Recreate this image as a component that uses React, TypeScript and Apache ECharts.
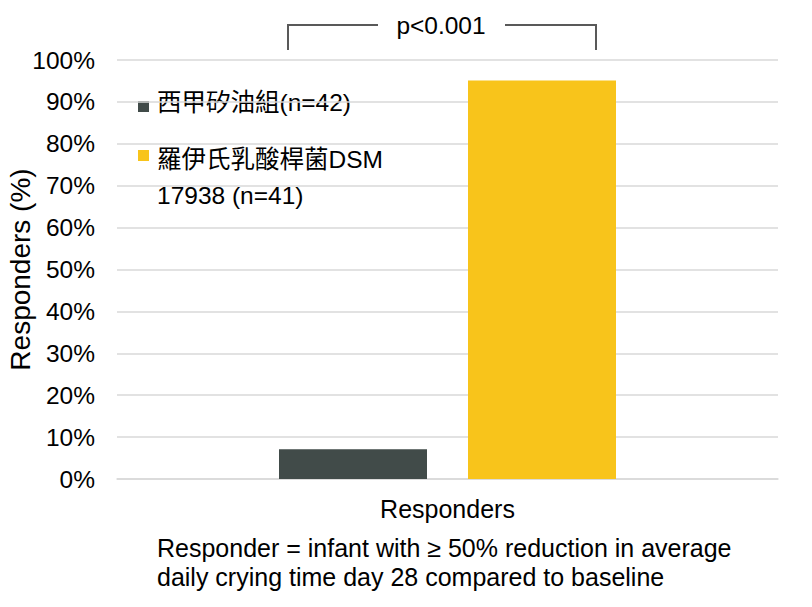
import React, { useEffect, useRef } from "react";
import * as echarts from "echarts";

const categories = ["Responders"];
const seriesNames = ["西甲矽油組(n=42)", "羅伊氏乳酸桿菌DSM\n17938 (n=41)"];
const seriesValues = [7.1, 95.1];
const seriesColors = ["#414b49", "#f8c41b"];
const pValueText = "p<0.001";
const yAxisName = "Responders (%)";
const footnoteLines = [
  "Responder = infant with ≥ 50% reduction in average",
  "daily crying time day 28 compared to baseline",
];

const FONT = "'Liberation Sans', Arial, 'Noto Sans CJK TC', sans-serif";

export default function App() {
  const ref = useRef<HTMLDivElement>(null);
  useEffect(() => {
    document.body.style.margin = "0";
    if (!ref.current) return;
    const chart = echarts.init(ref.current, null, { renderer: "svg" });
    const lineStyle = { stroke: "#595959", lineWidth: 2 };
    chart.setOption({
      animation: false,
      backgroundColor: "#ffffff",
      textStyle: { fontFamily: FONT },
      grid: { left: 117, right: 34, top: 60, bottom: 128, outerBoundsMode: "none", containLabel: false },
      xAxis: {
        type: "category",
        data: categories,
        axisLine: { show: true, lineStyle: { color: "#d9d9d9", width: 1.5 } },
        axisTick: { show: false },
        axisLabel: { fontSize: 25, color: "#000", margin: 17, fontFamily: FONT },
      },
      yAxis: {
        type: "value",
        min: 0,
        max: 100,
        interval: 10,
        name: yAxisName,
        nameLocation: "middle",
        nameGap: 83,
        nameMoveOverlap: false,
        nameTextStyle: { fontSize: 28, color: "#000", fontFamily: FONT },
        axisLine: { show: false },
        axisTick: { show: false },
        axisLabel: { formatter: "{value}%", fontSize: 24.5, color: "#000", margin: 22, fontFamily: FONT },
        splitLine: { lineStyle: { color: "#d9d9d9", width: 1.5 } },
      },
      series: seriesValues.map((v, i) => ({
        type: "bar",
        name: seriesNames[i],
        data: [v],
        barWidth: 148,
        barGap: "27.7%",
        itemStyle: { color: seriesColors[i] },
      })),
      graphic: [
        // bracket
        { type: "line", shape: { x1: 288, y1: 50, x2: 288, y2: 25 }, style: lineStyle },
        { type: "line", shape: { x1: 287, y1: 25, x2: 378, y2: 25 }, style: lineStyle },
        { type: "line", shape: { x1: 505, y1: 25, x2: 597, y2: 25 }, style: lineStyle },
        { type: "line", shape: { x1: 596, y1: 25, x2: 596, y2: 50 }, style: lineStyle },
        {
          type: "text",
          x: 441,
          y: 25,
          style: { text: pValueText, font: `24.5px ${FONT}`, fill: "#000", align: "center", verticalAlign: "middle" },
        },
        // legend
        { type: "rect", shape: { x: 138, y: 101, width: 11, height: 11 }, style: { fill: seriesColors[0] } },
        {
          type: "text",
          x: 157,
          y: 102,
          style: { text: seriesNames[0], font: `24.5px ${FONT}`, fill: "#000", align: "left", verticalAlign: "middle" },
        },
        { type: "rect", shape: { x: 138, y: 150, width: 11, height: 11 }, style: { fill: seriesColors[1] } },
        {
          type: "text",
          x: 157,
          y: 141,
          style: { text: seriesNames[1], font: `24.5px ${FONT}`, fill: "#000", align: "left", verticalAlign: "top", lineHeight: 36 },
        },
        // footnote
        {
          type: "text",
          x: 157,
          y: 533,
          style: { text: footnoteLines.join("\n"), font: `25px ${FONT}`, fill: "#000", align: "left", verticalAlign: "top", lineHeight: 29 },
        },
      ],
    });
    return () => chart.dispose();
  }, []);
  return <div ref={ref} style={{ width: 812, height: 607 }} />;
}
